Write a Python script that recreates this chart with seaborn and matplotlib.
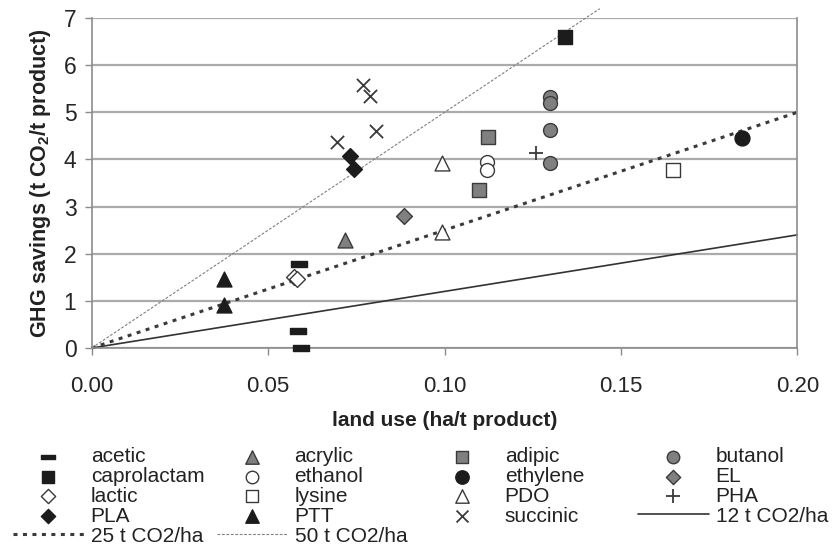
import numpy as np
import pandas as pd
import matplotlib
matplotlib.use("Agg")
import matplotlib.pyplot as plt
from matplotlib.path import Path
import seaborn as sns

# data (land use ha/t, GHG savings t CO2/t)
acetic_x = [0.0588, 0.0585, 0.0592]
acetic_y = [1.78, 0.36, 0.0]
acrylic_x = [0.0719]
acrylic_y = [2.29]
adipic_x = [0.1124, 0.1099]
adipic_y = [4.48, 3.35]
butanol_x = [0.1299, 0.1299, 0.1299, 0.1299]
butanol_y = [5.33, 5.20, 4.62, 3.93]
caprolactam_x = [0.1342]
caprolactam_y = [6.59]
ethanol_x = [0.1119, 0.1119]
ethanol_y = [3.94, 3.78]
ethylene_x = [0.1843]
ethylene_y = [4.45]
el_x = [0.0885]
el_y = [2.80]
lactic_x = [0.0572, 0.0582]
lactic_y = [1.51, 1.47]
lysine_x = [0.1649]
lysine_y = [3.78]
pdo_x = [0.0992, 0.0992]
pdo_y = [3.92, 2.47]
pha_x = [0.1260]
pha_y = [4.14]
pla_x = [0.0732, 0.0743]
pla_y = [4.07, 3.79]
ptt_x = [0.0375, 0.0375]
ptt_y = [1.46, 0.91]
succinic_x = [0.0696, 0.0770, 0.0790, 0.0806]
succinic_y = [4.38, 5.58, 5.35, 4.61]

# reference lines: savings per hectare and how far each is drawn
ref_rates = [12, 25, 50]
ref_xmax = [0.20, 0.20, 0.144]

x_ticks = [0.00, 0.05, 0.10, 0.15, 0.20]
y_ticks = [0, 1, 2, 3, 4, 5, 6, 7]

sns.set_style("white")
plt.rcParams["font.family"] = ["Liberation Sans", "DejaVu Sans"]
plt.rcParams["mathtext.fontset"] = "custom"
plt.rcParams["mathtext.rm"] = "Liberation Sans"
plt.rcParams["mathtext.bf"] = "Liberation Sans:bold"

BLACK = "#1c1c1c"
GRAY = "#808080"
EDGE = "#3a3a3a"

# horizontal bar marker for acetic
bar = Path([(-1, -0.36), (1, -0.36), (1, 0.36), (-1, 0.36), (-1, -0.36)],
           [Path.MOVETO, Path.LINETO, Path.LINETO, Path.LINETO, Path.CLOSEPOLY])

series = [
    ("acetic", acetic_x, acetic_y, bar, BLACK, BLACK, 120),
    ("acrylic", acrylic_x, acrylic_y, "^", GRAY, EDGE, 115),
    ("adipic", adipic_x, adipic_y, "s", GRAY, EDGE, 100),
    ("butanol", butanol_x, butanol_y, "o", GRAY, EDGE, 100),
    ("caprolactam", caprolactam_x, caprolactam_y, "s", BLACK, BLACK, 105),
    ("ethanol", ethanol_x, ethanol_y, "o", "white", EDGE, 100),
    ("ethylene", ethylene_x, ethylene_y, "o", BLACK, BLACK, 115),
    ("EL", el_x, el_y, "D", GRAY, EDGE, 65),
    ("lactic", lactic_x, lactic_y, "D", "white", EDGE, 65),
    ("lysine", lysine_x, lysine_y, "s", "white", EDGE, 100),
    ("PDO", pdo_x, pdo_y, "^", "white", EDGE, 115),
    ("PHA", pha_x, pha_y, "+", EDGE, EDGE, 110),
    ("PLA", pla_x, pla_y, "D", BLACK, BLACK, 65),
    ("PTT", ptt_x, ptt_y, "^", BLACK, BLACK, 115),
    ("succinic", succinic_x, succinic_y, "x", EDGE, EDGE, 90),
]

fig = plt.figure(figsize=(8.34, 5.48), dpi=100)
ax = fig.add_axes([0.110, 0.365, 0.846, 0.602])

# reference lines
ref_styles = [
    dict(color="#333333", lw=1.2, ls="-"),
    dict(color="#3a3a3a", lw=2.2, ls=(0, (1.3, 1.8))),
    dict(color="#808080", lw=0.8, ls=(0, (2.5, 1.5))),
]
for rate, xmax, st in zip(ref_rates, ref_xmax, ref_styles):
    xs = np.array([0.0, xmax])
    sns.lineplot(x=xs, y=rate * xs, ax=ax, label=f"{rate} t CO2/ha",
                 clip_on=False, zorder=2, **st)

for name, xs, ys, mk, fc, ec, size in series:
    df = pd.DataFrame({"land": xs, "ghg": ys})
    lw = 1.3 if mk in ("x", "+") else 1.0
    sns.scatterplot(data=df, x="land", y="ghg", ax=ax, marker=mk, s=size,
                    color=fc, edgecolor=ec, linewidth=lw, label=name,
                    clip_on=False, zorder=3)

ax.set_xlim(0, 0.20)
ax.set_ylim(0, 7)
ax.set_xticks(x_ticks)
ax.set_xticklabels([f"{t:.2f}" for t in x_ticks])
ax.set_yticks(y_ticks)
ax.yaxis.grid(True, color="#ababab", lw=1.6)
ax.set_axisbelow(True)
for side in ["left", "bottom", "right"]:
    ax.spines[side].set_visible(True)
    ax.spines[side].set_color("#8c8c8c")
    ax.spines[side].set_linewidth(1.2)
ax.spines["top"].set_visible(False)
ax.tick_params(axis="x", direction="out", length=5, width=1.0, color="#8c8c8c",
               pad=15, labelsize=16, labelcolor="#262626", bottom=True)
ax.tick_params(axis="y", direction="out", length=5, width=1.0, color="#8c8c8c",
               pad=6, labelsize=16.5, labelcolor="#262626", left=True)

ax.set_xlabel("land use (ha/t product)", fontsize=15, fontweight="bold",
              color="#222222", labelpad=10)
ax.set_ylabel(r"GHG savings (t CO$_\mathbf{2}$/t product)", fontsize=15.5,
              fontweight="bold", color="#222222", labelpad=8)

handles, labels = ax.get_legend_handles_labels()
ax.get_legend().remove()
lookup = dict(zip(labels, handles))

columns = [
    ["acetic", "caprolactam", "lactic", "PLA", "25 t CO2/ha"],
    ["acrylic", "ethanol", "lysine", "PTT", "50 t CO2/ha"],
    ["adipic", "ethylene", "PDO", "succinic"],
    ["butanol", "EL", "PHA", "12 t CO2/ha"],
]
col_x = [0.0156, 0.260, 0.512, 0.765]
for col, x0 in zip(columns, col_x):
    fig.legend([lookup[c] for c in col], col, loc="upper left",
               bbox_to_anchor=(x0, 0.184), frameon=False, fontsize=15,
               handlelength=3.4, handletextpad=0.33, labelspacing=0.04,
               borderpad=0, borderaxespad=0, scatterpoints=1, markerscale=0.9,
               labelcolor="#222222")

fig.savefig("out.png", dpi=100)
